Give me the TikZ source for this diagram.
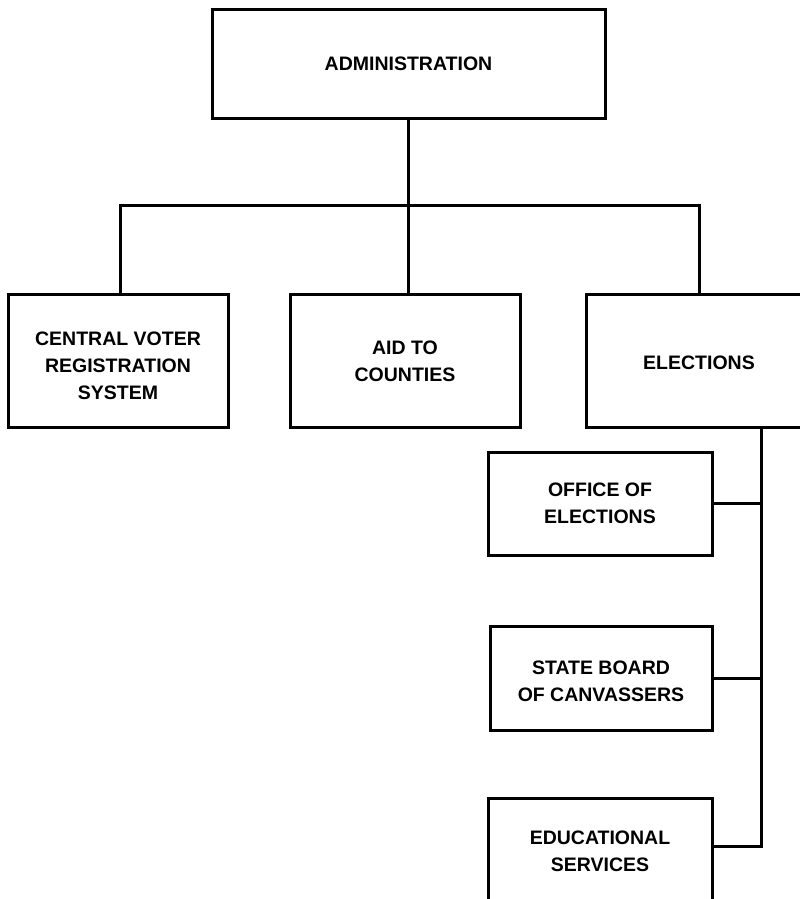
\documentclass[tikz,border=0pt]{standalone}
\usepackage{fontspec}
\setmainfont{Liberation Sans}
\newcommand\lowerby[2]{\raisebox{-#1}[\height][\depth]{#2}}
\begin{document}
\begin{tikzpicture}[x=1pt,y=-1pt,
  box/.style={draw=black,line width=3pt,fill=white,align=center,inner sep=0pt,
    font=\fontsize{19.5}{27}\selectfont\bfseries},
  link/.style={draw=black,line width=3pt}]
\useasboundingbox (0,0) rectangle (800,899);
\clip (0,0) rectangle (800,899);
\node[box,minimum width=393,minimum height=108] (adm) at (408.5,64) {ADMINISTRATION};
\node[box,minimum width=220,minimum height=133] (cvr) at (118,361) {\lowerby{5pt}{CENTRAL VOTER}\\\lowerby{5pt}{REGISTRATION}\\\lowerby{5pt}{SYSTEM}};
\node[box,minimum width=230,minimum height=133] (aid) at (405,361) {AID TO\\COUNTIES};
\node[box,minimum width=226,minimum height=133] (ele) at (699,361) {\lowerby{2pt}{ELECTIONS}};
\node[box,minimum width=224,minimum height=103] (off) at (600,503.5) {OFFICE OF\\ELECTIONS};
\node[box,minimum width=222,minimum height=104] (sbc) at (601,678) {\lowerby{3pt}{STATE BOARD}\\\lowerby{3pt}{OF CANVASSERS}};
\node[box,minimum width=224,minimum height=106] (edu) at (600,851) {EDUCATIONAL\\SERVICES};
\coordinate (bl) at (120,205);
\coordinate (br) at (699,205);
\coordinate (trunk) at (761,846);
\draw[link] (adm.south -| 408,0) -- (aid.north -| 408,0);
\draw[link] (cvr.north -| bl) |- (br) -- (ele.north -| br);
\draw[link] (ele.south -| trunk) |- (edu.east |- trunk);
\draw[link] (off.east) -- (off.east -| trunk);
\draw[link] (sbc.east) -- (sbc.east -| trunk);
\end{tikzpicture}
\end{document}
